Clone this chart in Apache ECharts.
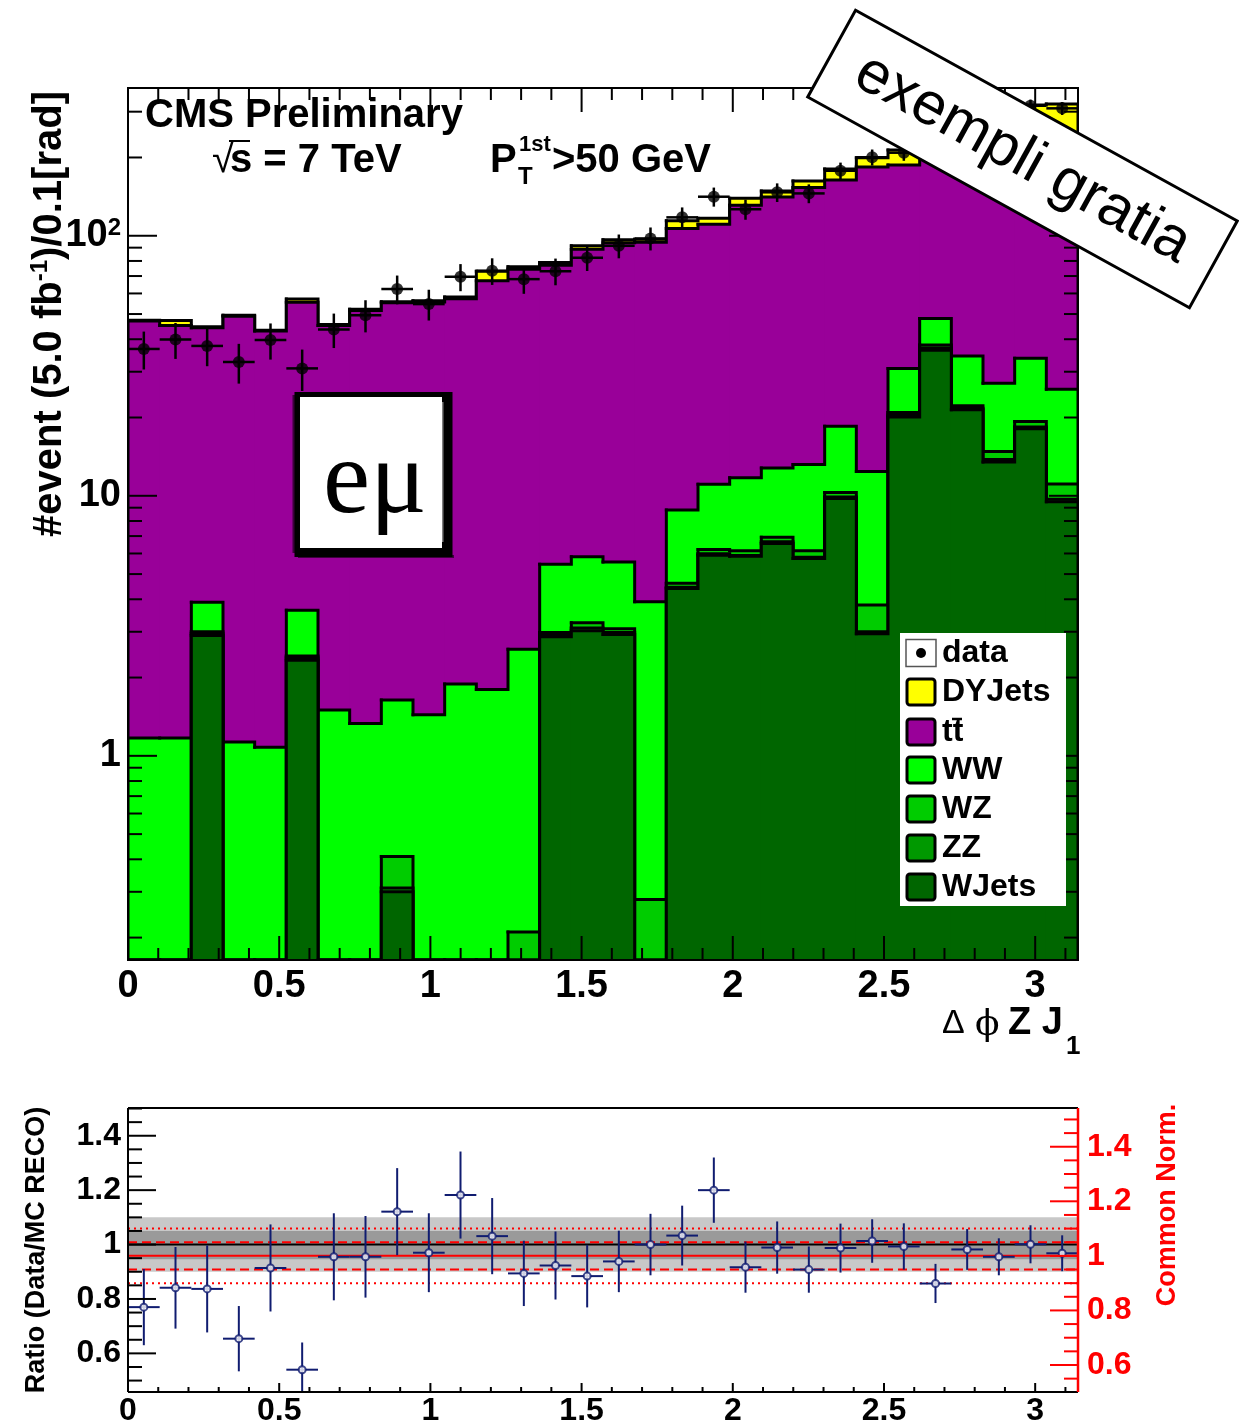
<!DOCTYPE html>
<html>
<head>
<meta charset="utf-8">
<script src="https://cdn.jsdelivr.net/npm/echarts@6/dist/echarts.min.js"></script>
<style>
html,body{margin:0;padding:0;background:#fff;}
#chart{width:1239px;height:1425px;}
</style>
</head>
<body>
<div id="chart"></div>
<script>
// Binning of delta-phi(Z, leading jet): 30 bins on [0, pi]
const NBINS = 30;
const X_MAX = Math.PI;
const BIN_W = X_MAX / NBINS;

// x tick labels (shared by both panels)
const xTickValues = [0, 0.5, 1, 1.5, 2, 2.5, 3];
const xTickLabels = ['0', '0.5', '1', '1.5', '2', '2.5', '3'];

// log y axis of the main panel
const Y_MIN = 0.164, Y_MAX = 370;
const logTickValues = [1, 10, 100];
const logTickLabels = ['1', '10', '10^2'];

// ratio panel axes
const R_MIN = 0.458, R_MAX = 1.502;          // Data/MC RECO
const N_MIN = 0.501, N_MAX = 1.542;          // Common Norm.
const ratioTickValues = [0.6, 0.8, 1, 1.2, 1.4];
const ratioTickLabels = ['0.6', '0.8', '1', '1.2', '1.4'];

// Stacked MC components, events per bin (bottom of the stack first)
const wjets  = [0, 0, 2.90, 0, 0, 2.33, 0, 0, 0.30, 0, 0, 0, 0, 2.87, 3.03, 2.93, 0, 4.40, 5.91, 5.85, 6.56, 5.74, 9.77, 2.95, 20.1, 36.3, 21.4, 13.5, 18.1, 9.48];
const zz     = [0, 0, 0.05, 0, 0, 0.05, 0, 0, 0.01, 0, 0, 0, 0, 0.05, 0.07, 0.05, 0, 0.05, 0.07, 0.05, 0.09, 0.06, 0.13, 0.05, 0.30, 0.70, 0.30, 0.30, 0.30, 0.22];
const wz     = [0, 0, 0.05, 0, 0, 0.04, 0, 0, 0.10, 0, 0, 0, 0.21, 0.06, 0.15, 0.10, 0.28, 0.16, 0.24, 0.25, 0.27, 0.35, 0.40, 0.80, 0.50, 1.00, 0.50, 1.00, 0.90, 1.40];
const ww     = [1.17, 1.17, 0.90, 1.13, 1.08, 1.21, 1.50, 1.33, 1.23, 1.44, 1.89, 1.80, 2.36, 2.47, 2.58, 2.49, 3.63, 4.20, 4.85, 5.58, 5.88, 7.05, 8.20, 8.60, 10.0, 10.1, 12.3, 12.3, 14.5, 14.6];
const ttbar  = [45.8, 44.0, 40.4, 47.9, 41.9, 51.9, 43.7, 50.3, 53.6, 54.2, 55.4, 65.4, 71.7, 71.6, 82.9, 88.4, 90.4, 97.9, 99.6, 119.3, 128.2, 140.2, 145.3, 171.6, 156.1, 156.9, 187.5, 200.9, 198.2, 204.3];
const dyjets = [0.4, 2.0, 0.4, 0.4, 0.3, 1.6, 0.4, 0.5, 0.5, 0.6, 0.9, 5.8, 1.7, 1.8, 2.8, 2.5, 2.6, 7.5, 6.0, 8.3, 7.6, 8.9, 16.6, 15.5, 26.6, 30, 36, 54, 86, 91];

// Observed events and their uncertainties
const dataCounts = [36.7, 39.9, 37.7, 32.7, 39.7, 30.9, 43.6, 49.5, 62.4, 54.6, 69.5, 73.3, 68.1, 73.1, 82.3, 91.5, 97.7, 117.7, 141.3, 126.4, 146.9, 145.5, 177.8, 200.4, 208.6, 202, 253, 269, 316, 309];
const dataErr    = [6.1, 6.3, 6.2, 5.7, 6.3, 5.6, 6.6, 7.0, 7.9, 7.4, 8.3, 8.6, 8.3, 8.6, 9.1, 9.6, 9.9, 10.8, 11.9, 11.2, 12.1, 12.1, 13.3, 14.2, 14.4, 14.2, 15.9, 16.4, 17.8, 17.6];

// Data / MC ratio
const ratio    = [0.770, 0.841, 0.837, 0.654, 0.914, 0.540, 0.955, 0.955, 1.121, 0.970, 1.182, 1.031, 0.894, 0.923, 0.884, 0.938, 1.000, 1.033, 1.200, 0.917, 0.989, 0.908, 0.987, 1.013, 0.993, 0.857, 0.982, 0.955, 1.001, 0.968];
const ratioErr = [0.14, 0.15, 0.16, 0.12, 0.16, 0.10, 0.16, 0.15, 0.16, 0.145, 0.16, 0.14, 0.12, 0.125, 0.115, 0.113, 0.113, 0.11, 0.12, 0.094, 0.096, 0.085, 0.09, 0.08, 0.085, 0.072, 0.075, 0.068, 0.07, 0.066];

// Uncertainty bands (left axis) and reference lines (right axis)
const bandOuter = [0.9, 1.1];
const bandInner = [0.946, 1.05];
const normDashed = [0.95, 1.05];
const normDotted = [0.9, 1.1];

// Legend entries
const legendNames = ['data', 'DYJets', 'tt', 'WW', 'WZ', 'ZZ', 'WJets'];

const FONT = '"Liberation Sans", Arial, Helvetica, sans-serif';
const NAVY = '#101c70';

const components = [
  { name: 'WJets',  values: wjets,  color: '#006600' },
  { name: 'ZZ',     values: zz,     color: '#009900' },
  { name: 'WZ',     values: wz,     color: '#00cc00' },
  { name: 'WW',     values: ww,     color: '#00ff00' },
  { name: 'ttbar',  values: ttbar,  color: '#990099' },
  { name: 'DYJets', values: dyjets, color: '#ffff00' }
];
const legendColors = [null, '#ffff00', '#990099', '#00ff00', '#00cc00', '#009900', '#006600'];

// cumulative stack levels
const cum = [];
let running = new Array(NBINS).fill(0);
components.forEach(c => {
  running = running.map((r, i) => r + c.values[i]);
  cum.push(running.slice());
});

function pickLabel(values, labels, v) {
  const idx = values.findIndex(t => Math.abs(t - v) < 1e-6 * Math.max(1, t));
  return idx >= 0 ? labels[idx] : '';
}

// one step-histogram level of the stack
function stackSeries(k) {
  const vals = cum[k];
  const color = components[k].color;
  return {
    type: 'custom',
    name: components[k].name,
    xAxisIndex: 0, yAxisIndex: 0,
    z: 2 + (components.length - 1 - k),
    clip: true,
    silent: true,
    encode: { x: [0, 1], y: 2 },
    data: vals.map((v, i) => [i * BIN_W, (i + 1) * BIN_W, v]),
    renderItem(params, api) {
      const i = params.dataIndex;
      const cs = params.coordSys;
      const B = cs.y + cs.height;
      const yOf = v => (v > Y_MIN ? api.coord([1, v])[1] : B);
      const x0 = api.coord([api.value(0), 1])[0];
      const x1 = api.coord([api.value(1), 1])[0];
      const top = yOf(vals[i]);
      const next = i < NBINS - 1 ? yOf(vals[i + 1]) : B;
      const children = [];
      if (top < B) {
        children.push({ type: 'rect', z2: 0,
          shape: { x: x0 - 0.5, y: top, width: x1 - x0 + 1, height: B - top },
          style: { fill: color } });
      }
      const pts = i === 0 ? [[x0, B], [x0, top], [x1, top], [x1, next]]
                          : [[x0, top], [x1, top], [x1, next]];
      children.push({ type: 'polyline', z2: 5, shape: { points: pts },
        style: { stroke: '#000', lineWidth: 3, fill: null, lineCap: 'square', lineJoin: 'miter' } });
      return { type: 'group', children };
    }
  };
}

// tick marks and frame of the main panel
const mainTicks = {
  type: 'custom', xAxisIndex: 0, yAxisIndex: 0, z: 12, clip: false, silent: true,
  data: [[0, 1]],
  renderItem(params, api) {
    const cs = params.coordSys;
    const L = cs.x, R = cs.x + cs.width, T = cs.y, B = cs.y + cs.height;
    const ch = [];
    const seg = (x1, y1, x2, y2) => ch.push({ type: 'line', shape: { x1, y1, x2, y2 }, style: { stroke: '#000', lineWidth: 2 } });
    for (let k = 0; k <= 31; k++) {
      const v = k / 10;
      const px = api.coord([v, 1])[0];
      const len = k % 5 === 0 ? 24 : 12;
      seg(px, B, px, B - len);
      seg(px, T, px, T + len);
    }
    [0.1, 1, 10, 100].forEach(d => {
      for (let m = 1; m <= 9; m++) {
        const v = d * m;
        if (v < Y_MIN || v > Y_MAX) continue;
        const py = api.coord([1, v])[1];
        const len = m === 1 ? 29 : 14;
        seg(L, py, L + len, py);
        seg(R, py, R - len, py);
      }
    });
    ch.push({ type: 'rect', shape: { x: L, y: T, width: R - L, height: B - T }, style: { fill: null, stroke: '#000', lineWidth: 2 } });
    return { type: 'group', children: ch };
  }
};

// tick marks and frame of the ratio panel (left axis)
const ratioTicks = {
  type: 'custom', xAxisIndex: 1, yAxisIndex: 1, z: 12, clip: false, silent: true,
  data: [[0, 1]],
  renderItem(params, api) {
    const cs = params.coordSys;
    const L = cs.x, R = cs.x + cs.width, T = cs.y, B = cs.y + cs.height;
    const ch = [];
    const seg = (x1, y1, x2, y2, c, w) => ch.push({ type: 'line', shape: { x1, y1, x2, y2 }, style: { stroke: c || '#000', lineWidth: w || 2 } });
    for (let k = 0; k <= 31; k++) {
      const px = api.coord([k / 10, 1])[0];
      seg(px, B, px, B - (k % 5 === 0 ? 9 : 5));
    }
    for (let k = 10; k <= 30; k++) {
      const v = k * 0.05;
      if (v < R_MIN || v > R_MAX) continue;
      const py = api.coord([0, v])[1];
      seg(L, py, L + (k % 4 === 0 ? 28 : 14), py);
    }
    seg(L, T, R, T); seg(L, B, R, B); seg(L, T, L, B);
    return { type: 'group', children: ch };
  }
};

// red right-hand axis of the ratio panel
const normTicks = {
  type: 'custom', xAxisIndex: 1, yAxisIndex: 2, z: 12, clip: false, silent: true,
  data: [[0, 1]],
  renderItem(params, api) {
    const cs = params.coordSys;
    const R = cs.x + cs.width, T = cs.y, B = cs.y + cs.height;
    const ch = [];
    const seg = (x1, y1, x2, y2) => ch.push({ type: 'line', shape: { x1, y1, x2, y2 }, style: { stroke: '#ff0000', lineWidth: 2 } });
    for (let k = 10; k <= 31; k++) {
      const v = k * 0.05;
      if (v < N_MIN || v > N_MAX) continue;
      const py = api.coord([0, v])[1];
      seg(R, py, R - (k % 4 === 0 ? 28 : 14), py);
    }
    ch.push({ type: 'line', shape: { x1: R, y1: T, x2: R, y2: B }, style: { stroke: '#ff0000', lineWidth: 2.5 } });
    return { type: 'group', children: ch };
  }
};

const stackList = [];
for (let k = components.length - 1; k >= 0; k--) stackList.push(stackSeries(k));

const centers = dataCounts.map((_, i) => (i + 0.5) * BIN_W);

const dataErrors = {
  type: 'custom', xAxisIndex: 0, yAxisIndex: 0, z: 9, clip: true, silent: true,
  encode: { x: 0, y: 1 },
  data: dataCounts.map((v, i) => [centers[i], v, dataErr[i]]),
  renderItem(params, api) {
    const x = api.value(0), v = api.value(1), e = api.value(2);
    const pLo = api.coord([x, v - e]), pHi = api.coord([x, v + e]);
    const pL = api.coord([x - BIN_W / 2, v]), pR = api.coord([x + BIN_W / 2, v]);
    const st = { stroke: '#000', lineWidth: 2.5 };
    return { type: 'group', children: [
      { type: 'line', shape: { x1: pLo[0], y1: pLo[1], x2: pHi[0], y2: pHi[1] }, style: st },
      { type: 'line', shape: { x1: pL[0], y1: pL[1], x2: pR[0], y2: pR[1] }, style: st }
    ] };
  }
};

const dataMarkers = {
  type: 'scatter', name: 'data', xAxisIndex: 0, yAxisIndex: 0, z: 10, silent: true,
  symbol: 'circle', symbolSize: 12,
  itemStyle: { color: '#000' },
  data: dataCounts.map((v, i) => [centers[i], v])
};

const bands = {
  type: 'custom', xAxisIndex: 1, yAxisIndex: 1, z: 2, clip: true, silent: true,
  encode: { x: 0, y: 1 },
  data: [[0, bandOuter[0], bandOuter[1], 0], [0, bandInner[0], bandInner[1], 1]],
  renderItem(params, api) {
    const lo = api.coord([0, api.value(1)]);
    const hi = api.coord([X_MAX, api.value(2)]);
    return { type: 'rect', shape: { x: lo[0], y: hi[1], width: hi[0] - lo[0], height: lo[1] - hi[1] },
      style: { fill: api.value(3) === 0 ? '#c8c8c8' : '#9a9a9a' } };
  }
};

function hLine(yIdx, value, color, type, width, z) {
  return {
    type: 'line', xAxisIndex: 1, yAxisIndex: yIdx, z: z, silent: true,
    symbol: 'none', animation: false,
    lineStyle: { color: color, width: width, type: type },
    data: [[0, value], [X_MAX, value]]
  };
}

const ratioErrors = {
  type: 'custom', xAxisIndex: 1, yAxisIndex: 1, z: 9, clip: true, silent: true,
  encode: { x: 0, y: 1 },
  data: ratio.map((v, i) => [centers[i], v, ratioErr[i]]),
  renderItem(params, api) {
    const x = api.value(0), v = api.value(1), e = api.value(2);
    const pLo = api.coord([x, v - e]), pHi = api.coord([x, v + e]);
    const pL = api.coord([x - BIN_W / 2, v]), pR = api.coord([x + BIN_W / 2, v]);
    const st = { stroke: NAVY, lineWidth: 2 };
    return { type: 'group', children: [
      { type: 'line', shape: { x1: pLo[0], y1: pLo[1], x2: pHi[0], y2: pHi[1] }, style: st },
      { type: 'line', shape: { x1: pL[0], y1: pL[1], x2: pR[0], y2: pR[1] }, style: st }
    ] };
  }
};

const ratioMarkers = {
  type: 'scatter', xAxisIndex: 1, yAxisIndex: 1, z: 10, silent: true,
  symbol: 'circle', symbolSize: 7,
  itemStyle: { color: '#fff', borderColor: NAVY, borderWidth: 2 },
  data: ratio.map((v, i) => [centers[i], v])
};

const boldLabel = (size, color) => ({ fontSize: size, fontWeight: 'bold', fontFamily: FONT, color: color || '#000' });

// ---- annotations, legend and stamps ----
const graphics = [];
function txt(x, y, text, size, opts) {
  opts = opts || {};
  graphics.push({
    type: 'text', x: x, y: y, z: opts.z || 105, rotation: opts.rotation || 0, silent: true,
    style: {
      text: text, fill: opts.color || '#000', fontSize: size,
      fontWeight: opts.weight || 'bold', fontFamily: opts.family || FONT,
      align: opts.align || 'left', verticalAlign: 'middle', rich: opts.rich
    }
  });
}

txt(145, 116, 'CMS Preliminary', 40);
txt(212, 161, '\u221A', 40, { weight: 'normal' });
graphics.push({ type: 'line', z: 100, silent: true, shape: { x1: 229, y1: 141, x2: 250, y2: 141 }, style: { stroke: '#000', lineWidth: 2 } });
txt(230, 161, 's = 7 TeV', 40);
txt(490, 161, 'P', 40);
txt(519, 145, '1st', 22);
txt(518, 177, 'T', 24);
txt(552, 161, '>50 GeV', 40);

// axis titles
txt(50, 314, '{b|#event (5.0 fb}{s|-1}{b|)/0.1[rad]}', 40, {
  rotation: Math.PI / 2, align: 'center',
  rich: { b: { fontSize: 40, fontWeight: 'bold', fontFamily: FONT, lineHeight: 44 },
          s: { fontSize: 24, fontWeight: 'bold', fontFamily: FONT, verticalAlign: 'top', lineHeight: 22 } }
});
txt(942, 1024, '\u0394', 34, { weight: 'normal' });
txt(975, 1026, '\u03D5', 36, { weight: 'normal', family: '"DejaVu Serif", serif' });
txt(1008, 1024, 'Z J', 38);
txt(1066, 1047, '1', 26);
txt(37, 1250, 'Ratio (Data/MC RECO)', 27, { rotation: Math.PI / 2, align: 'center' });
txt(1168, 1205, 'Common Norm.', 27, { rotation: Math.PI / 2, align: 'center', color: '#ff0000' });

// legend
graphics.push({ type: 'rect', z: 100, silent: true, shape: { x: 900, y: 633, width: 166, height: 273 }, style: { fill: '#fff' } });
const rowY = [653, 692, 732, 770, 809, 848, 887];
legendNames.forEach((name, r) => {
  const cy = rowY[r];
  if (legendColors[r] === null) {
    graphics.push({ type: 'rect', z: 101, silent: true, shape: { x: 906, y: cy - 13.5, width: 30, height: 27 }, style: { fill: '#fff', stroke: '#555', lineWidth: 1.5 } });
    graphics.push({ type: 'circle', z: 102, silent: true, shape: { cx: 921, cy: cy, r: 5 }, style: { fill: '#000' } });
  } else {
    graphics.push({ type: 'rect', z: 101, silent: true, shape: { x: 907, y: cy - 13, width: 28, height: 26, r: 3 }, style: { fill: legendColors[r], stroke: '#000', lineWidth: 3 } });
  }
  txt(942, cy, name, 32);
});
graphics.push({ type: 'line', z: 106, silent: true, shape: { x1: 952, y1: 719, x2: 962, y2: 719 }, style: { stroke: '#000', lineWidth: 2.5 } });

// channel stamp with a slightly ragged border
graphics.push({ type: 'rect', z: 100, silent: true, shape: { x: 294.5, y: 392, width: 158, height: 165 }, style: { fill: '#000' } });
graphics.push({ type: 'rect', z: 100, silent: true, shape: { x: 292.5, y: 395, width: 4, height: 158 }, style: { fill: '#000', opacity: 0.6 } });
graphics.push({ type: 'rect', z: 100, silent: true, shape: { x: 298, y: 555, width: 156, height: 3 }, style: { fill: '#000', opacity: 0.6 } });
graphics.push({ type: 'rect', z: 101, silent: true, shape: { x: 300, y: 397, width: 142, height: 151 }, style: { fill: '#fff' } });
graphics.push({ type: 'rect', z: 101, silent: true, shape: { x: 441, y: 402, width: 2.5, height: 140 }, style: { fill: '#fff', opacity: 0.5 } });
txt(375, 484, 'e\u03BC', 106, { weight: 'normal', family: '"Liberation Serif", "DejaVu Serif", serif', align: 'center', z: 108 });

// rotated example label
graphics.push({
  type: 'group', x: 1022.5, y: 159, rotation: -0.5044, z: 120, silent: true,
  children: [
    { type: 'rect', z: 120, shape: { x: -218, y: -49.5, width: 436, height: 99 }, style: { fill: '#fff', stroke: '#000', lineWidth: 3 } },
    { type: 'text', z: 121, x: 0, y: 0, style: { text: 'exempli gratia', fontSize: 60, fontFamily: FONT, fill: '#000', align: 'center', verticalAlign: 'middle' } }
  ]
});

const option = {
  animation: false,
  backgroundColor: '#fff',
  grid: [
    { left: 128, top: 88, width: 950, height: 872, containLabel: false, outerBoundsMode: 'none' },
    { left: 128, top: 1108, width: 950, height: 284, containLabel: false, outerBoundsMode: 'none' }
  ],
  xAxis: [
    { gridIndex: 0, type: 'value', min: 0, max: X_MAX,
      axisLine: { show: false }, axisTick: { show: false }, splitLine: { show: false },
      axisLabel: Object.assign(boldLabel(38), { margin: 8, customValues: xTickValues,
        formatter: v => pickLabel(xTickValues, xTickLabels, v) }) },
    { gridIndex: 1, type: 'value', min: 0, max: X_MAX,
      axisLine: { show: false }, axisTick: { show: false }, splitLine: { show: false },
      axisLabel: Object.assign(boldLabel(32), { margin: 3, customValues: xTickValues,
        formatter: v => pickLabel(xTickValues, xTickLabels, v) }) }
  ],
  yAxis: [
    { gridIndex: 0, type: 'log', logBase: 10, min: Y_MIN, max: Y_MAX,
      axisLine: { show: false }, axisTick: { show: false }, splitLine: { show: false },
      axisLabel: { margin: 7,
        formatter: v => {
          const s = pickLabel(logTickValues, logTickLabels, v);
          if (!s) return '';
          const parts = s.split('^');
          return parts.length > 1 ? '{a|' + parts[0] + '}{s|' + parts[1] + '}' : '{a|' + s + '}';
        },
        rich: { a: boldLabel(38), s: Object.assign(boldLabel(24), { verticalAlign: 'top', lineHeight: 20 }) } } },
    { gridIndex: 1, type: 'value', min: R_MIN, max: R_MAX,
      axisLine: { show: false }, axisTick: { show: false }, splitLine: { show: false },
      axisLabel: Object.assign(boldLabel(32), { margin: 7, customValues: ratioTickValues,
        formatter: v => pickLabel(ratioTickValues, ratioTickLabels, v) }) },
    { gridIndex: 1, type: 'value', position: 'right', min: N_MIN, max: N_MAX,
      axisLine: { show: false }, axisTick: { show: false }, splitLine: { show: false },
      axisLabel: Object.assign(boldLabel(32, '#ff0000'), { margin: 9, customValues: ratioTickValues,
        formatter: v => pickLabel(ratioTickValues, ratioTickLabels, v) }) }
  ],
  series: [].concat(stackList, [
    dataErrors, dataMarkers, mainTicks,
    bands,
    hLine(1, 1, '#000', 'solid', 2, 4),
    hLine(2, 1, '#ff0000', 'solid', 2, 5),
    hLine(2, normDashed[0], '#ff0000', [9, 5], 2, 5),
    hLine(2, normDashed[1], '#ff0000', [9, 5], 2, 5),
    hLine(2, normDotted[0], '#ff0000', [2, 4], 2, 5),
    hLine(2, normDotted[1], '#ff0000', [2, 4], 2, 5),
    ratioErrors, ratioMarkers, ratioTicks, normTicks
  ]),
  graphic: graphics
};

const chart = echarts.init(document.getElementById('chart'), null, { renderer: 'canvas' });
chart.setOption(option);
</script>
</body>
</html>
